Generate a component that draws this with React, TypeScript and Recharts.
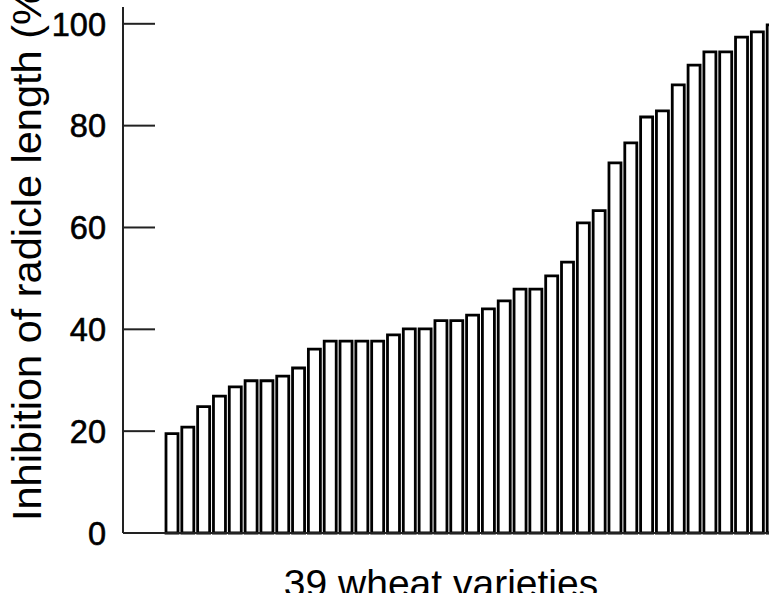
import React from "react";
import { BarChart, Bar, XAxis, YAxis, Label } from "recharts";

const varieties = [
  "1", "2", "3", "4", "5", "6", "7", "8", "9", "10",
  "11", "12", "13", "14", "15", "16", "17", "18", "19", "20",
  "21", "22", "23", "24", "25", "26", "27", "28", "29", "30",
  "31", "32", "33", "34", "35", "36", "37", "38", "39",
];

const inhibition = [
  19.5, 20.8, 24.8, 26.9, 28.7, 29.9, 29.9, 30.8, 32.4, 36.1,
  37.7, 37.7, 37.7, 37.7, 38.9, 40.1, 40.1, 41.7, 41.7, 42.8,
  44.0, 45.6, 47.9, 47.9, 50.5, 53.2, 60.9, 63.3, 72.7, 76.6,
  81.7, 82.9, 88.0, 91.9, 94.5, 94.5, 97.4, 98.4, 99.8,
];

const yTicks = [0, 20, 40, 60, 80, 100];

const data = varieties.map((v, i) => ({ variety: v, value: inhibition[i] }));

const FONT = '"Liberation Sans", Arial, Helvetica, sans-serif';
const TICK_MARGIN = 18;
const TICK_LEN = 32;

const YTick = (props: any) => {
  const { x, y, payload } = props;
  const axisX = x + TICK_MARGIN;
  return (
    <g>
      <line x1={axisX} y1={y} x2={axisX + TICK_LEN} y2={y} stroke="#222" strokeWidth={2} />
      <text
        x={x + 1}
        y={y}
        dy="0.36em"
        textAnchor="end"
        fontFamily={FONT}
        fontSize={32.5}
        fill="#000"
        stroke="#000"
        strokeWidth={0.6}
      >
        {payload.value}
      </text>
    </g>
  );
};

const YTitle = (props: any) => {
  const vb = props.viewBox || { x: 0, y: 7, width: 123, height: 526 };
  const tx = vb.x + 41;
  const ty = vb.y + vb.height - 12;
  return (
    <text
      x={tx}
      y={ty}
      transform={`rotate(-90 ${tx} ${ty})`}
      textAnchor="start"
      fontFamily={FONT}
      fontSize={41.5}
      fill="#000"
    >
      Inhibition of radicle length (%)
    </text>
  );
};

const XTitle = (props: any) => {
  const vb = props.viewBox || { x: 123, y: 533, width: 658, height: 87 };
  return (
    <text
      x={vb.x + 318}
      y={vb.y + 64}
      textAnchor="middle"
      fontFamily={FONT}
      fontSize={39}
      fill="#000"
    >
      39 wheat varieties
    </text>
  );
};

export default function App() {
  return (
    <div
      style={{
        position: "fixed",
        left: 0,
        top: 0,
        width: 769,
        height: 593,
        overflow: "hidden",
        background: "#fff",
      }}
    >
      <BarChart
        width={781}
        height={620}
        data={data}
        margin={{ top: 7, right: 0, bottom: 0, left: 0 }}
        barCategoryGap={2}
      >
        <XAxis
          dataKey="variety"
          height={87}
          tick={false}
          tickLine={false}
          axisLine={{ stroke: "#222", strokeWidth: 2 }}
          padding={{ left: 41, right: 0 }}
        >
          <Label content={<XTitle />} />
        </XAxis>
        <YAxis
          width={123}
          domain={[0, 103.3]}
          ticks={yTicks}
          interval={0}
          tickLine={false}
          tickSize={0}
          tickMargin={TICK_MARGIN}
          tick={<YTick />}
          axisLine={{ stroke: "#222", strokeWidth: 2 }}
        >
          <Label content={<YTitle />} />
        </YAxis>
        <Bar
          dataKey="value"
          fill="#fff"
          stroke="#000"
          strokeWidth={2.8}
          isAnimationActive={false}
        />
      </BarChart>
    </div>
  );
}
